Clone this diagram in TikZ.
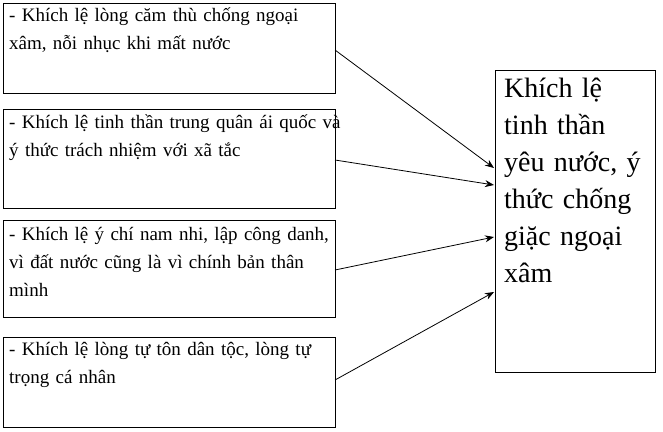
\documentclass[tikz,border=0pt]{standalone}
\usepackage{fontspec}
\setmainfont{Liberation Serif}
\usetikzlibrary{arrows.meta}
\tikzset{
 ltext/.style={anchor=north west,text width=360pt,align=left,inner sep=0pt,font=\fontsize{19}{28}\selectfont},
 arr/.style={-{Stealth[length=9pt,width=7pt]},line width=0.8pt}
}
\begin{document}
\begin{tikzpicture}[x=1pt,y=-1pt]
\useasboundingbox (0,0) rectangle (663,431);
\draw[line width=1pt] (3,3) rectangle (335,93);
\draw[line width=1pt] (3,109) rectangle (335,208);
\draw[line width=1pt] (3,220) rectangle (335,317);
\draw[line width=1pt] (3,337) rectangle (335,427);
\draw[line width=1pt] (495,70) rectangle (655,372);
\node[ltext] (t1) at (9,8) {- Khích lệ lòng căm thù chống ngoại\\ xâm, nỗi nhục khi mất nước};
\node[ltext] (t2) at (9,115) {- Khích lệ tinh thần trung quân ái quốc và\\ ý thức trách nhiệm với xã tắc};
\node[ltext] (t3) at (9,227) {- Khích lệ ý chí nam nhi, lập công danh,\\ vì đất nước cũng là vì chính bản thân\\ mình};
\node[ltext] (t4) at (9,342) {- Khích lệ lòng tự tôn dân tộc, lòng tự\\ trọng cá nhân};
\node[anchor=north west,text width=160pt,align=left,inner sep=0pt,font=\fontsize{28}{37}\selectfont] (r) at (504,78) {Khích lệ\\ tinh thần\\ yêu nước, ý\\ thức chống\\ giặc ngoại\\ xâm};
\coordinate (a1) at (335,50); \coordinate (b1) at (494,168);
\coordinate (a2) at (335,160); \coordinate (b2) at (494,185);
\coordinate (a3) at (335,270); \coordinate (b3) at (494,237);
\coordinate (a4) at (335,380); \coordinate (b4) at (494,292);
\draw[arr] (a1) -- (b1);
\draw[arr] (a2) -- (b2);
\draw[arr] (a3) -- (b3);
\draw[arr] (a4) -- (b4);
\end{tikzpicture}
\end{document}
